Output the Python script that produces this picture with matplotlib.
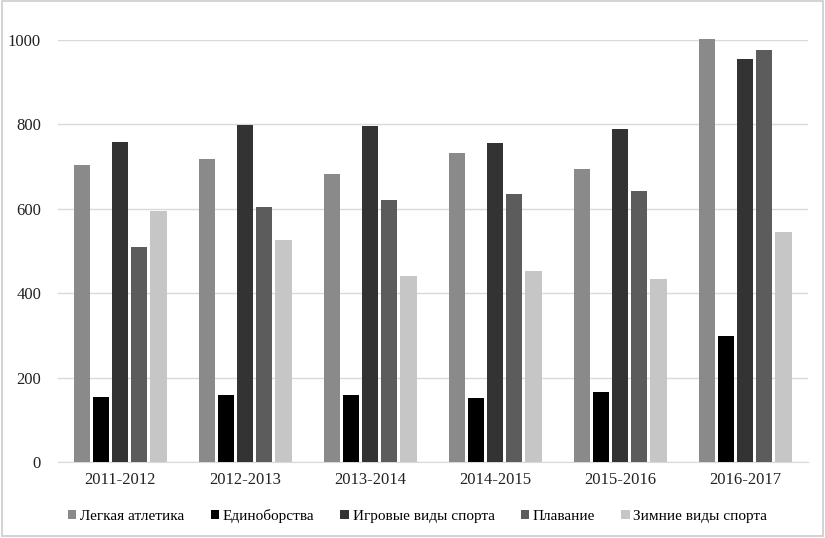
import numpy as np
import matplotlib.pyplot as plt
from matplotlib.patches import Rectangle

years = ["2011-2012", "2012-2013", "2013-2014", "2014-2015", "2015-2016", "2016-2017"]
series = ["Легкая атлетика", "Единоборства", "Игровые виды спорта", "Плавание", "Зимние виды спорта"]
athletics = [704, 718, 683, 732, 694, 1003]
martial = [155, 158, 160, 152, 165, 298]
games = [758, 799, 795, 755, 789, 954]
swimming = [509, 603, 620, 635, 643, 975]
winter = [595, 525, 441, 452, 434, 546]
values = [athletics, martial, games, swimming, winter]
colors = ["#8a8a8a", "#000000", "#333333", "#5c5c5c", "#c6c6c6"]

plt.rcParams['font.family'] = ['Liberation Serif', 'DejaVu Serif']

fig = plt.figure(figsize=(8.25, 5.38), dpi=100)
ax = fig.add_axes([0.070, 0.141, 0.909, 0.785])

x = np.arange(len(years))
width = 0.13
step = 0.153
for i, (name, vals) in enumerate(zip(series, values)):
    ax.bar(x + (i - 2) * step, vals, width, color=colors[i], label=name, clip_on=False, zorder=3)

ax.set_xlim(-0.5, len(years) - 0.5)
ax.set_ylim(0, 1000)
ax.set_yticks(range(0, 1001, 200))
ax.set_xticks(x)
ax.set_xticklabels(years)
ax.grid(axis='y', color='#d9d9d9', linewidth=1, zorder=0)
ax.tick_params(length=0, labelsize=12, colors='#222222')
ax.tick_params(axis='y', pad=12)
ax.tick_params(axis='x', pad=7)
for s in ['top', 'right', 'left']:
    ax.spines[s].set_visible(False)
ax.spines['bottom'].set_color('#d9d9d9')

ax.legend(loc='upper center', bbox_to_anchor=(0.48, -0.078), ncol=5, frameon=False,
          fontsize=11, handlelength=0.55, handleheight=0.55, handletextpad=0.25, columnspacing=1.7)

fig.patches.append(Rectangle((0.003, 0.004), 0.994, 0.994, transform=fig.transFigure,
                             fill=False, edgecolor='#cccccc', linewidth=1.2))

fig.savefig("out.png", dpi=100)
